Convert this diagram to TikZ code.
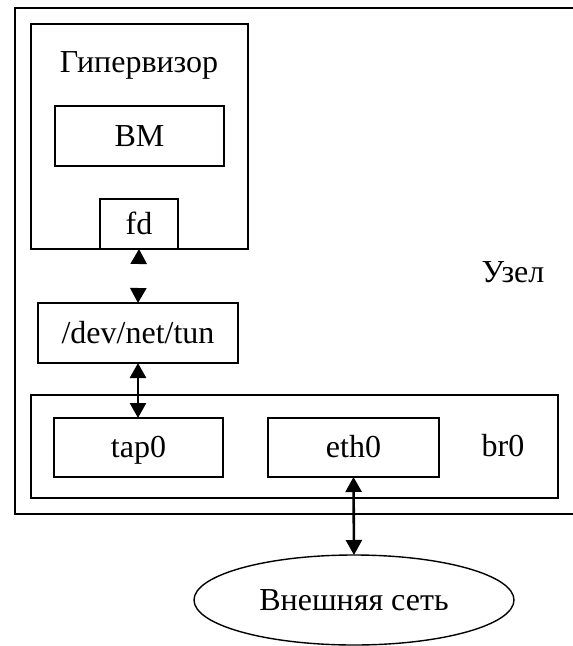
\documentclass[tikz,border=0pt]{standalone}
\usepackage{fontspec}
\setmainfont{Liberation Serif}
\usetikzlibrary{shapes.geometric,arrows.meta}
\tikzset{
  box/.style={draw, line width=1.6pt, inner sep=0pt, outer sep=0pt, rectangle},
  cloud/.style={draw, line width=1.4pt, ellipse, inner sep=0pt, outer sep=0pt},
  link/.style={line width=2.6pt, {Triangle[length=15pt,width=16pt,color=black]}-{Triangle[length=15pt,width=16pt,color=black]}},
  txt/.style={font=\fontsize{32}{37}\selectfont, text height=21.7pt, text depth=1.2pt}
}
\begin{document}
\begin{tikzpicture}[x=1pt,y=-1pt, every node/.style={txt}]
\clip (0,0) rectangle (573,646);
% host frame, open on the right side
\draw[line width=1.6pt] (580,8) -- (15,8) -- (15,514) -- (580,514);
\node (host) at (513,272) {Узел};

% hypervisor with the virtual machine and its descriptor
\node[box, minimum width=217pt, minimum height=225pt] (hyp) at (139.5,136.5) {};
\node (hyptitle) at (139,62) {Гипервизор};
\node[box, minimum width=169pt, minimum height=60pt] (vm) at (139.5,136) {ВМ};
\node[box, fill=white, minimum width=78pt, minimum height=50pt] (fd) at (139,224) {fd};

% tun device
\node[box, minimum width=200pt, minimum height=60pt] (tun) at (138,333) {/dev/net/tun};

% bridge with its ports
\node[box, minimum width=527pt, minimum height=103pt] (br) at (294.5,446.5) {};
\node (brlabel) at (503,446) {br0};
\node[box, minimum width=169pt, minimum height=59pt] (tap) at (138.5,447.5) {tap0};
\node[box, minimum width=171pt, minimum height=59pt] (eth) at (353.5,447.5) {eth0};

% external network
\node[cloud, minimum width=320pt, minimum height=90pt] (net) at (354,600) {Внешняя сеть};

% connections
\draw[link, white] (fd.south) -- (tun.north);
\draw[link] (tun.south) -- (tun.south |- tap.north);
\draw[link] (eth.south) -- (net.north);
\end{tikzpicture}
\end{document}
